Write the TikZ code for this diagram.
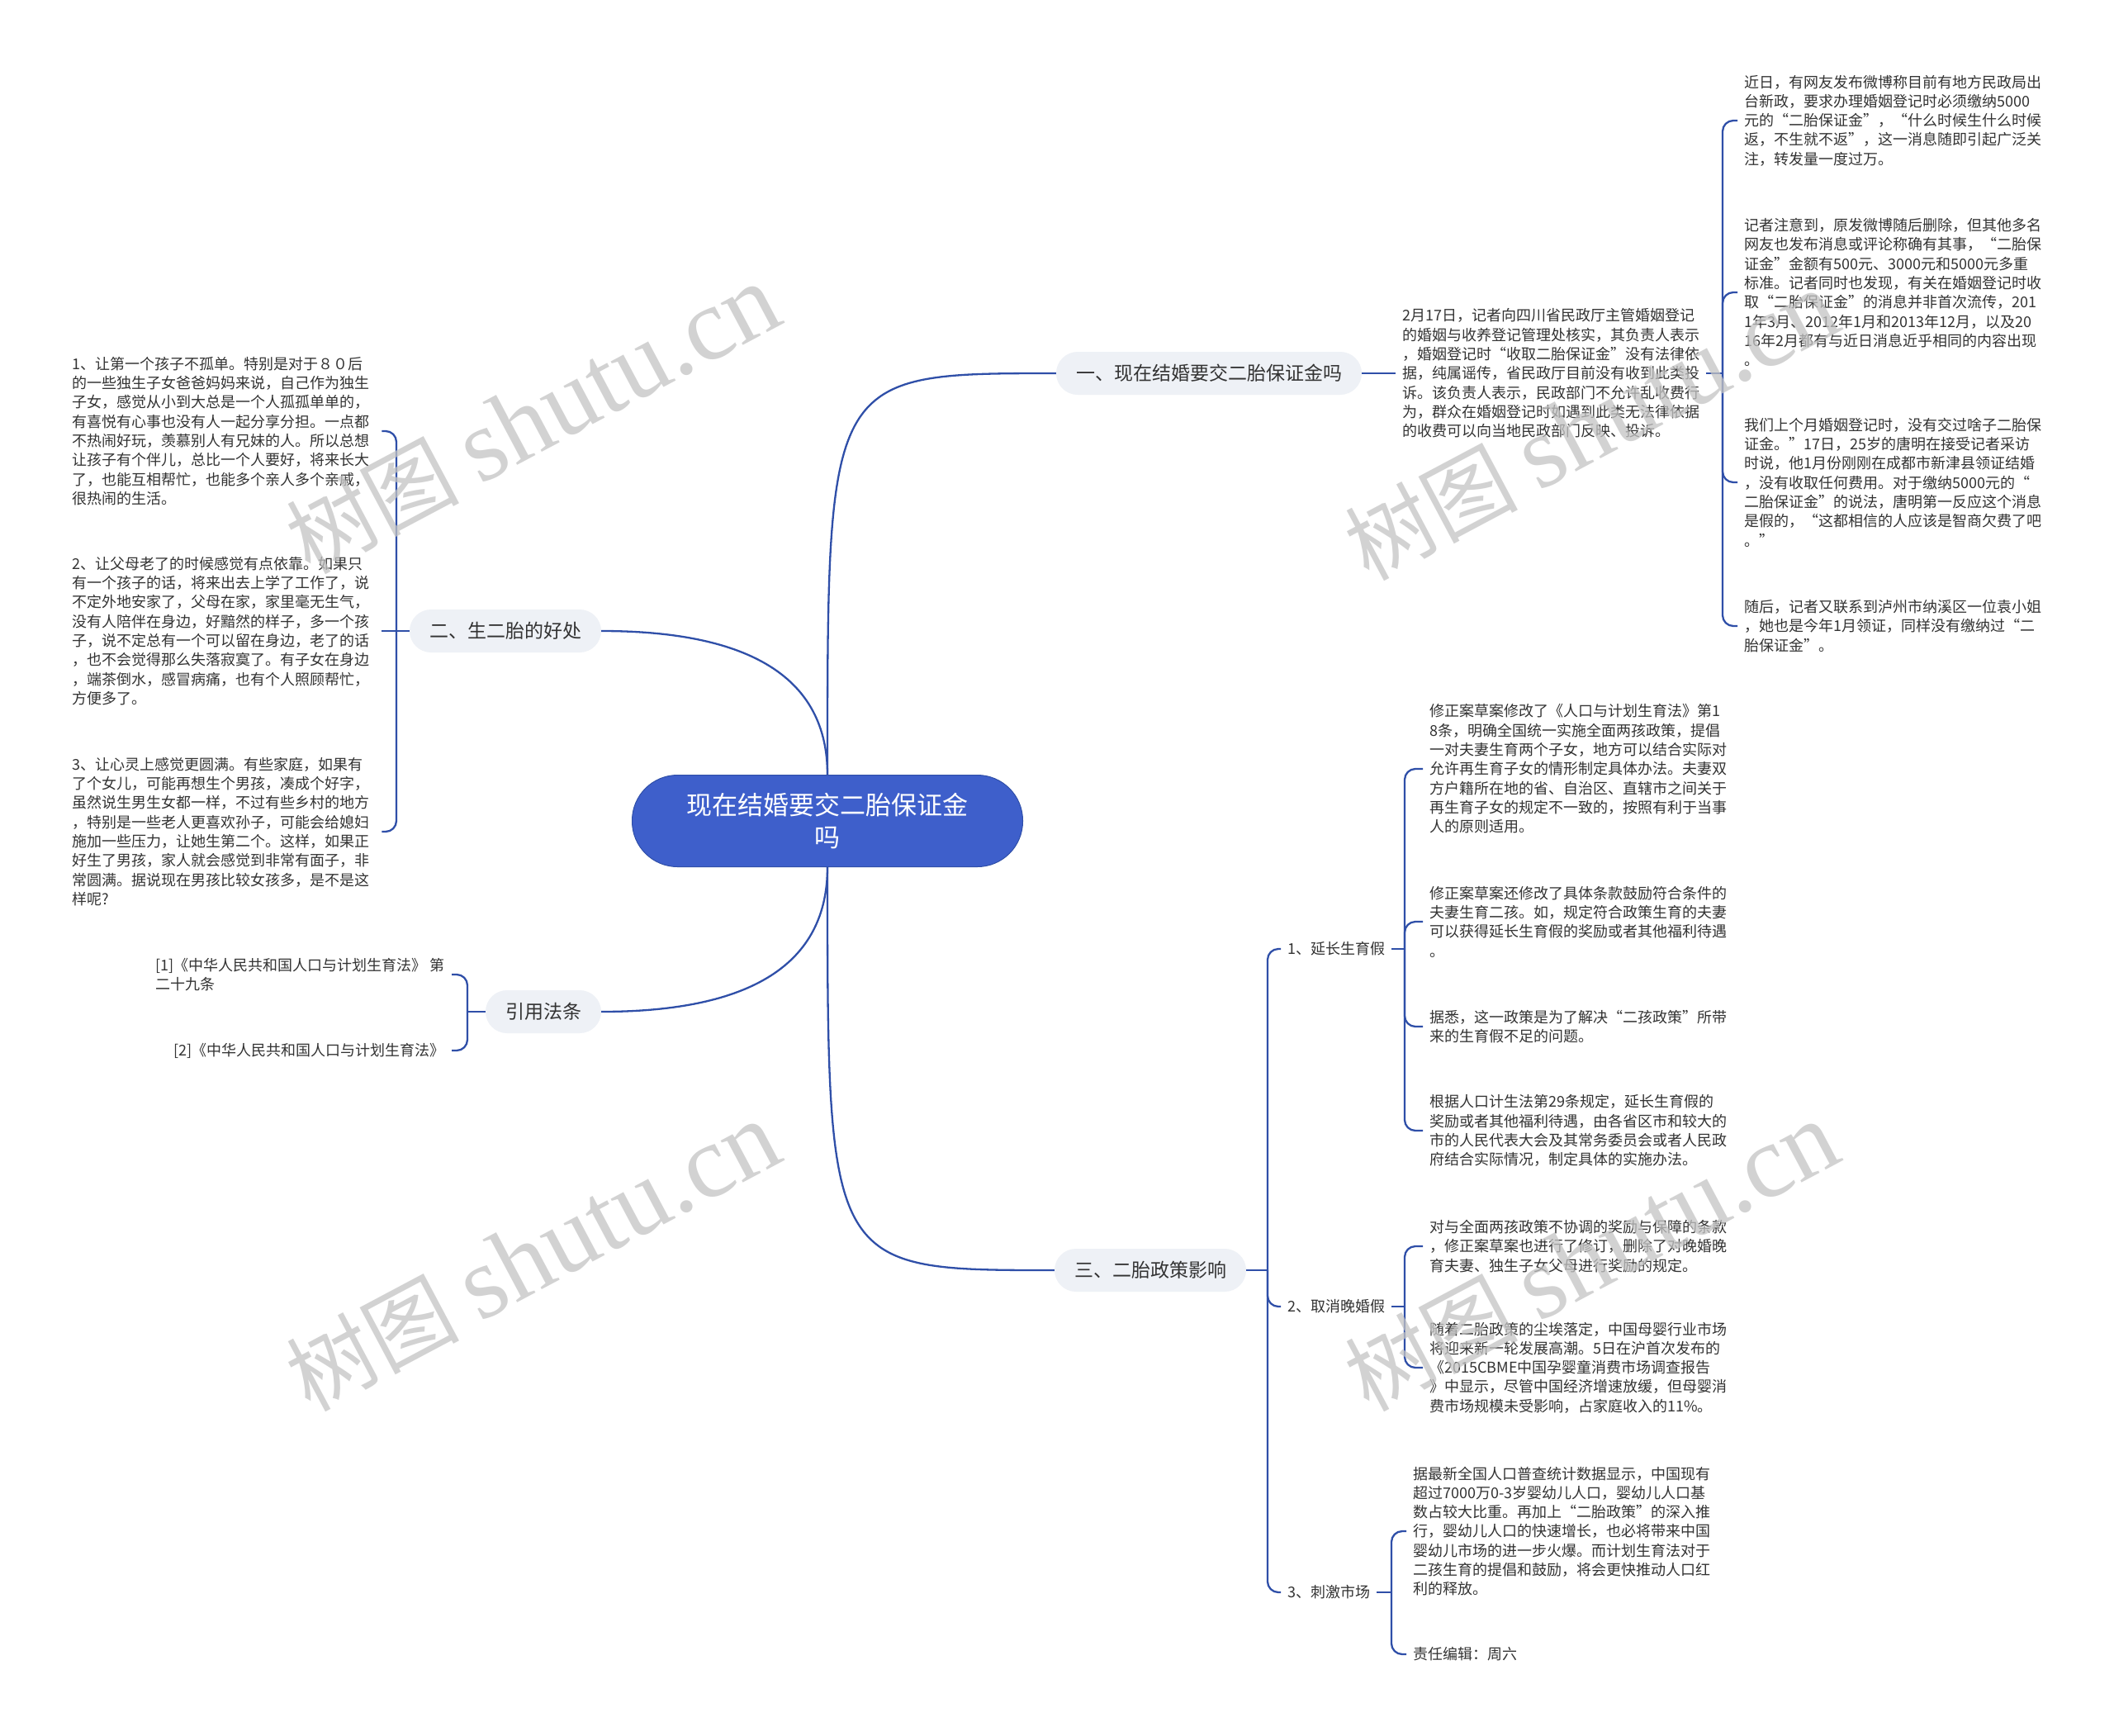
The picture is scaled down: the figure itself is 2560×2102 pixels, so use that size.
\documentclass[tikz,border=0pt]{standalone}
\usepackage{fontspec}
\setmainfont{Noto Sans CJK SC}
\newfontfamily\wmserif{Liberation Serif}
\usetikzlibrary{calc}
\definecolor{linec}{HTML}{2F4FA8}
\definecolor{rootc}{HTML}{3E5FCB}
\definecolor{branchc}{HTML}{EEF1F6}
\definecolor{txtc}{HTML}{333333}
\definecolor{wmc}{HTML}{C4C4C4}
\newcommand{\bodyfs}{\fontsize{18}{23.3}\selectfont}
\newcommand{\branchfs}{\fontsize{23}{28}\selectfont}
\newcommand{\rootfs}{\fontsize{31}{39}\selectfont}
\pgfdeclarelayer{back}
\pgfdeclarelayer{bg}
\pgfsetlayers{back,bg,main}
\begin{document}
\begin{tikzpicture}[x=1pt,y=-1pt,
  conn/.style={draw=linec, line width=2.3pt},
  bconn/.style={conn, rounded corners=13pt},
  rootbox/.style={fill=rootc, draw=linec, line width=1pt, rounded corners=55pt, minimum width=473pt, minimum height=111pt, text=white, font=\rootfs, align=center, inner sep=0pt},
  branchbox/.style={fill=branchc, rounded corners=26pt, minimum height=52pt, inner xsep=24pt, inner ysep=0pt, text=txtc, font=\branchfs},
  textW/.style={anchor=west, align=left, text=txtc, font=\bodyfs, inner xsep=8pt, inner ysep=2pt},
  textLeft/.style={textW, text width=367pt},
  textE/.style={anchor=east, align=left, text=txtc, font=\bodyfs, inner xsep=8pt, inner ysep=2pt},
  wm/.style={text=wmc, opacity=0.75, rotate=28, inner sep=0pt}
]
\begin{pgfonlayer}{back}
\fill[white] (0,0) rectangle (2560,2102);
\end{pgfonlayer}
\useasboundingbox (0,0) rectangle (2560,2102);

% root and branches
\node[rootbox] (root) at (1002,994) {现在结婚要交二胎保证金\\吗};
\node[branchbox] (b1) at (1464,452) {一、现在结婚要交二胎保证金吗};
\node[branchbox] (b2) at (612,764) {二、生二胎的好处};
\node[branchbox] (b3) at (658,1225) {引用法条};
\node[branchbox] (b4) at (1393,1538) {三、二胎政策影响};

% branch 1
\node[textW] (t0) at (1690,452) {2月17日，记者向四川省民政厅主管婚姻登记\\的婚姻与收养登记管理处核实，其负责人表示\\，婚姻登记时“收取二胎保证金”没有法律依\\据，纯属谣传，省民政厅目前没有收到此类投\\诉。该负责人表示，民政部门不允许乱收费行\\为，群众在婚姻登记时如遇到此类无法律依据\\的收费可以向当地民政部门反映、投诉。};
\node[textW] (r1) at (2104,146) {近日，有网友发布微博称目前有地方民政局出\\台新政，要求办理婚姻登记时必须缴纳5000\\元的“二胎保证金”，“什么时候生什么时候\\返，不生就不返”，这一消息随即引起广泛关\\注，转发量一度过万。};
\node[textW] (r2) at (2104,354) {记者注意到，原发微博随后删除，但其他多名\\网友也发布消息或评论称确有其事，“二胎保\\证金”金额有500元、3000元和5000元多重\\标准。记者同时也发现，有关在婚姻登记时收\\取“二胎保证金”的消息并非首次流传，201\\1年3月、2012年1月和2013年12月，以及20\\16年2月都有与近日消息近乎相同的内容出现\\。};
\node[textW] (r3) at (2104,584) {我们上个月婚姻登记时，没有交过啥子二胎保\\证金。”17日，25岁的唐明在接受记者采访\\时说，他1月份刚刚在成都市新津县领证结婚\\，没有收取任何费用。对于缴纳5000元的“\\二胎保证金”的说法，唐明第一反应这个消息\\是假的，“这都相信的人应该是智商欠费了吧\\。”};
\node[textW] (r4) at (2104,758) {随后，记者又联系到泸州市纳溪区一位袁小姐\\，她也是今年1月领证，同样没有缴纳过“二\\胎保证金”。};

% branch 2
\node[textLeft] (l1) at (79,522) {1、让第一个孩子不孤单。特别是对于８０后\\的一些独生子女爸爸妈妈来说，自己作为独生\\子女，感觉从小到大总是一个人孤孤单单的，\\有喜悦有心事也没有人一起分享分担。一点都\\不热闹好玩，羡慕别人有兄妹的人。所以总想\\让孩子有个伴儿，总比一个人要好，将来长大\\了，也能互相帮忙，也能多个亲人多个亲戚，\\很热闹的生活。};
\node[textLeft] (l2) at (79,764) {2、让父母老了的时候感觉有点依靠。如果只\\有一个孩子的话，将来出去上学了工作了，说\\不定外地安家了，父母在家，家里毫无生气，\\没有人陪伴在身边，好黯然的样子，多一个孩\\子，说不定总有一个可以留在身边，老了的话\\，也不会觉得那么失落寂寞了。有子女在身边\\，端茶倒水，感冒病痛，也有个人照顾帮忙，\\方便多了。};
\node[textLeft] (l3) at (79,1007) {3、让心灵上感觉更圆满。有些家庭，如果有\\了个女儿，可能再想生个男孩，凑成个好字，\\虽然说生男生女都一样，不过有些乡村的地方\\，特别是一些老人更喜欢孙子，可能会给媳妇\\施加一些压力，让她生第二个。这样，如果正\\好生了男孩，家人就会感觉到非常有面子，非\\常圆满。据说现在男孩比较女孩多，是不是这\\样呢?};

% branch 3
\node[textE] (c1) at (547,1180) {{[}1{]}《中华人民共和国人口与计划生育法》 第\\二十九条};
\node[textE] (c2) at (547,1272) {{[}2{]}《中华人民共和国人口与计划生育法》};

% branch 4
\node[textW] (s1) at (1551,1149) {1、延长生育假};
\node[textW] (s2) at (1551,1582) {2、取消晚婚假};
\node[textW] (s3) at (1551,1928) {3、刺激市场};

\node[textW] (a1) at (1723,931) {修正案草案修改了《人口与计划生育法》第1\\8条，明确全国统一实施全面两孩政策，提倡\\一对夫妻生育两个子女，地方可以结合实际对\\允许再生育子女的情形制定具体办法。夫妻双\\方户籍所在地的省、自治区、直辖市之间关于\\再生育子女的规定不一致的，按照有利于当事\\人的原则适用。};
\node[textW] (a2) at (1723,1116) {修正案草案还修改了具体条款鼓励符合条件的\\夫妻生育二孩。如，规定符合政策生育的夫妻\\可以获得延长生育假的奖励或者其他福利待遇\\。};
\node[textW] (a3) at (1723,1243) {据悉，这一政策是为了解决“二孩政策”所带\\来的生育假不足的问题。};
\node[textW] (a4) at (1723,1369) {根据人口计生法第29条规定，延长生育假的\\奖励或者其他福利待遇，由各省区市和较大的\\市的人民代表大会及其常务委员会或者人民政\\府结合实际情况，制定具体的实施办法。};

\node[textW] (d1) at (1723,1509) {对与全面两孩政策不协调的奖励与保障的条款\\，修正案草案也进行了修订，删除了对晚婚晚\\育夫妻、独生子女父母进行奖励的规定。};
\node[textW] (d2) at (1723,1656) {随着二胎政策的尘埃落定，中国母婴行业市场\\将迎来新一轮发展高潮。5日在沪首次发布的\\《2015CBME中国孕婴童消费市场调查报告\\》中显示，尽管中国经济增速放缓，但母婴消\\费市场规模未受影响，占家庭收入的11\%。};

\node[textW] (e1) at (1703,1854) {据最新全国人口普查统计数据显示，中国现有\\超过7000万0-3岁婴幼儿人口，婴幼儿人口基\\数占较大比重。再加上“二胎政策”的深入推\\行，婴幼儿人口的快速增长，也必将带来中国\\婴幼儿市场的进一步火爆。而计划生育法对于\\二孩生育的提倡和鼓励，将会更快推动人口红\\利的释放。};
\node[textW] (e2) at (1703,2003) {责任编辑：周六};

% junction points
\coordinate (jR) at (2086,452);
\coordinate (jL) at (480,764);
\coordinate (jC) at (566,1225);
\coordinate (jB) at (1535,1538);
\coordinate (j1) at (1701,1149);
\coordinate (j2) at (1701,1582);
\coordinate (j3) at (1685,1928);

\begin{pgfonlayer}{bg}
\draw[conn] (root.north) .. controls (root.north |- b1.west) and (root.north |- b1.west) .. (b1.west);
\draw[conn] (root.north) .. controls ($(root.north)!2/3!(root.north |- b2.east)$) and ($(b2.east)!2/3!(root.north |- b2.east)$) .. (b2.east);
\draw[conn] (root.south) .. controls ($(root.south)!2/3!(root.south |- b3.east)$) and ($(b3.east)!2/3!(root.south |- b3.east)$) .. (b3.east);
\draw[conn] (root.south) .. controls (root.south |- b4.west) and (root.south |- b4.west) .. (b4.west);

\draw[conn] (b1.east) -- (t0.west);
\draw[conn] (t0.east) -- (jR);
\foreach \n in {r1,r2,r3,r4} \draw[bconn] (jR) |- (\n.west);

\draw[conn] (b2.west) -- (jL);
\draw[conn] (jL) -- (l2.east);
\foreach \n in {l1,l3} \draw[bconn] (jL) |- (\n.east);

\draw[conn] (b3.west) -- (jC);
\foreach \n in {c1,c2} \draw[bconn] (jC) |- (\n.east);

\draw[conn] (b4.east) -- (jB);
\foreach \n in {s1,s2,s3} \draw[bconn] (jB) |- (\n.west);

\draw[conn] (s1.east) -- (j1);
\foreach \n in {a1,a2,a3,a4} \draw[bconn] (j1) |- (\n.west);
\draw[conn] (s2.east) -- (j2);
\foreach \n in {d1,d2} \draw[bconn] (j2) |- (\n.west);
\draw[conn] (s3.east) -- (j3);
\foreach \n in {e1,e2} \draw[bconn] (j3) |- (\n.west);
\end{pgfonlayer}

% watermarks
\node[wm] (w1) at (645,508) {\fontsize{105}{105}\selectfont 树图 {\wmserif\fontsize{125}{125}\selectfont shutu.cn}};
\node[wm] (w2) at (645,1522) {\fontsize{105}{105}\selectfont 树图 {\wmserif\fontsize{125}{125}\selectfont shutu.cn}};
\node[wm] (w3) at (1927,516) {\fontsize{105}{105}\selectfont 树图 {\wmserif\fontsize{125}{125}\selectfont shutu.cn}};
\node[wm] (w4) at (1927,1522) {\fontsize{105}{105}\selectfont 树图 {\wmserif\fontsize{125}{125}\selectfont shutu.cn}};
\end{tikzpicture}
\end{document}
